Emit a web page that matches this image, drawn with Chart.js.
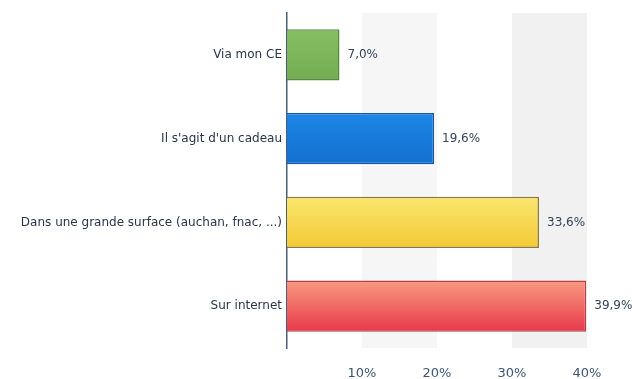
<!DOCTYPE html>
<html>
<head>
<meta charset="utf-8">
<script src="https://cdn.jsdelivr.net/npm/chart.js@4/dist/chart.umd.min.js"></script>
<style>
  html, body { margin: 0; padding: 0; background: #ffffff; }
  #wrap { width: 638px; height: 379px; position: relative; }
</style>
</head>
<body>
<div id="wrap"><canvas id="c"></canvas></div>
<script>
// Où achetez-vous ? — share of answers per purchase channel
const categories = [
  "Via mon CE",
  "Il s'agit d'un cadeau",
  "Dans une grande surface (auchan, fnac, ...)",
  "Sur internet"
];
const values = [7.0, 19.6, 33.6, 39.9];
const valueLabels = ["7,0%", "19,6%", "33,6%", "39,9%"];
const tickValues = [10, 20, 30, 40];
const tickLabels = ["10%", "20%", "30%", "40%"];

// top / bottom gradient stops and outline for each bar
const barTop = ["#86bf63", "#1c86e6", "#fae66e", "#f89a80"];
const barBottom = ["#73ac52", "#1370cf", "#f2c935", "#e8394a"];
const barEdge = ["#5c8a45", "#1159a8", "#8c7a3a", "#b8404c"];

const BAR_PCT = 0.61;

function barFill(ctx) {
  const chart = ctx.chart;
  const i = ctx.dataIndex;
  const area = chart.chartArea;
  if (!area || i === undefined || !chart.scales.y) return barTop[i] || "#999";
  const y = chart.scales.y.getPixelForValue(i);
  const half = (area.height / categories.length) * BAR_PCT / 2;
  const g = chart.ctx.createLinearGradient(0, y - half, 0, y + half);
  g.addColorStop(0, barTop[i]);
  g.addColorStop(1, barBottom[i]);
  return g;
}

// alternating light bands behind the bars
const bandsPlugin = {
  id: "bands",
  beforeDatasetsDraw(chart) {
    const { ctx, chartArea, scales } = chart;
    const x = scales.x;
    const bands = [[10, 20, "#f6f6f6"], [30, 40, "#f1f1f1"]];
    ctx.save();
    bands.forEach(([a, b, col]) => {
      const x0 = x.getPixelForValue(a);
      const x1 = x.getPixelForValue(b);
      ctx.fillStyle = col;
      ctx.fillRect(x0, chartArea.top, x1 - x0, chartArea.bottom - chartArea.top);
    });
    ctx.restore();
  }
};

// value text at the end of each bar
const valueLabelPlugin = {
  id: "valueLabels",
  afterDatasetsDraw(chart) {
    const { ctx } = chart;
    const meta = chart.getDatasetMeta(0);
    ctx.save();
    ctx.font = "12px 'DejaVu Sans'";
    ctx.fillStyle = "#33445c";
    ctx.textAlign = "left";
    ctx.textBaseline = "middle";
    meta.data.forEach((bar, i) => {
      ctx.fillText(valueLabels[i], bar.x + 8, bar.y);
    });
    ctx.restore();
  }
};

new Chart(document.getElementById("c"), {
  type: "bar",
  data: {
    labels: categories,
    datasets: [{
      data: values,
      backgroundColor: barFill,
      borderColor: barEdge,
      borderWidth: 1.5,
      borderSkipped: "start",
      barPercentage: BAR_PCT,
      categoryPercentage: 1
    }]
  },
  options: {
    indexAxis: "y",
    responsive: true,
    maintainAspectRatio: false,
    animation: false,
    layout: { padding: { top: 13, right: 51, left: 0, bottom: 0 } },
    plugins: {
      legend: { display: false },
      tooltip: { enabled: false }
    },
    scales: {
      x: {
        min: 0,
        max: 40,
        afterBuildTicks(scale) {
          scale.ticks = tickValues.map(v => ({ value: v }));
        },
        afterFit(scale) { scale.height = 31; },
        grid: { display: false },
        border: { display: false },
        ticks: {
          padding: 10,
          color: "#3d5572",
          font: { family: "'DejaVu Sans'", size: 13 },
          callback(value) {
            const k = tickValues.indexOf(value);
            return k >= 0 ? tickLabels[k] : "";
          }
        }
      },
      y: {
        afterFit(scale) { scale.width = 287; },
        grid: { display: false, drawTicks: false },
        border: { display: true, color: "#4a5e7a", width: 1.5 },
        ticks: {
          padding: 5,
          color: "#28354a",
          font: { family: "'DejaVu Sans'", size: 12 }
        }
      }
    }
  },
  plugins: [bandsPlugin, valueLabelPlugin]
});
</script>
</body>
</html>
